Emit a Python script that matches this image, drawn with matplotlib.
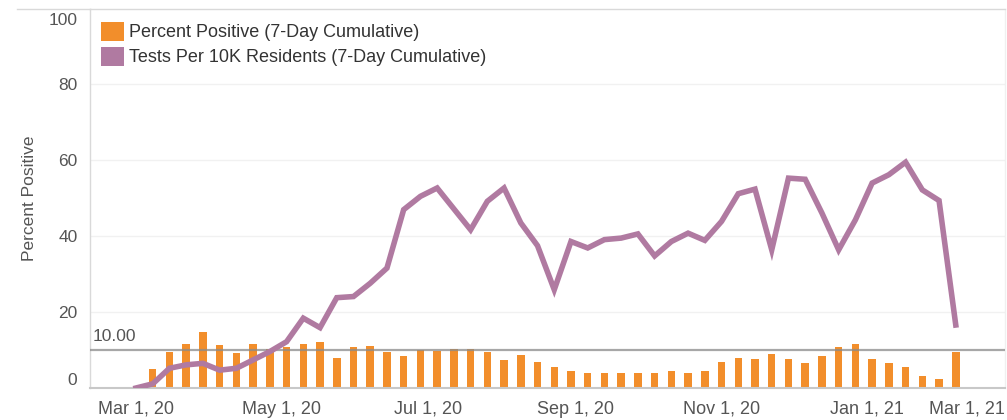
import numpy as np
import pandas as pd
import matplotlib
matplotlib.use("Agg")
import matplotlib.pyplot as plt
import matplotlib.dates as mdates
import matplotlib.transforms as mtransforms
from matplotlib.patches import Patch
from matplotlib.lines import Line2D

# ---------------- data ----------------
start_date = "2020-03-01"
n_weeks = 50
percent_positive = [0.0, 4.9, 9.6, 11.6, 14.7, 11.2, 9.3, 11.6, 10.2, 10.9,
                    11.6, 12.1, 8.0, 10.7, 11.1, 9.6, 8.4, 10.0, 9.7, 10.4,
                    10.4, 9.6, 7.3, 8.8, 6.9, 5.6, 4.5, 4.0, 4.0, 4.0,
                    4.0, 4.0, 4.5, 3.9, 4.5, 6.9, 7.8, 7.6, 8.9, 7.6,
                    6.5, 8.4, 10.8, 11.6, 7.6, 6.5, 5.6, 3.2, 2.4, 9.6]
tests_per_10k = [0.0, 1.1, 5.2, 6.1, 6.5, 4.7, 5.2, 7.4, 9.6, 12.2,
                 18.4, 15.9, 23.8, 24.1, 27.6, 31.6, 47.0, 50.5, 52.7, 47.2,
                 41.7, 49.2, 52.7, 43.5, 37.5, 25.9, 38.6, 36.9, 39.1, 39.5,
                 40.6, 34.8, 38.6, 40.8, 38.9, 43.9, 51.2, 52.4, 36.4, 55.3,
                 55.0, 46.1, 36.4, 44.3, 54.0, 56.2, 59.5, 52.2, 49.4, 16.6]
reference_value = 10.0
tick_dates = ["2020-03-01", "2020-05-01", "2020-07-01", "2020-09-01",
              "2020-11-01", "2021-01-01"]
tick_labels = ["Mar 1, 20", "May 1, 20", "Jul 1, 20", "Sep 1, 20",
               "Nov 1, 20", "Jan 1, 21"]
last_tick_label = "Mar 1, 21"
y_ticks = [0, 20, 40, 60, 80, 100]
series_names = ["Percent Positive (7-Day Cumulative)",
                "Tests Per 10K Residents (7-Day Cumulative)"]
y_title = "Percent Positive"

# ---------------- style ----------------
ORANGE = "#F28E2B"
PURPLE = "#B07AA1"
TXT = "#555555"
FONT = ["Liberation Sans", "DejaVu Sans"]
plt.rcParams["font.family"] = FONT

W, H = 1007, 420
fig = plt.figure(figsize=(W / 100, H / 100), dpi=100)
ax_left, ax_right, ax_top, ax_bot = 90, 1005, 8.5, 388
ax = fig.add_axes([ax_left / W, 1 - ax_bot / H, (ax_right - ax_left) / W,
                   (ax_bot - ax_top) / H])

dates = pd.date_range(start_date, periods=n_weeks, freq="7D")
x = mdates.date2num(dates)
x0 = mdates.date2num(pd.Timestamp(start_date))
px_per_day = 2.39
x0_px = 136
ax.set_xlim(x0 - (x0_px - ax_left) / px_per_day,
            x0 + (ax_right - x0_px) / px_per_day)
ax.set_ylim(0, 100)

# gridlines
for yv in y_ticks[1:-1]:
    ax.axhline(yv, color="#f1f1f1", lw=1.0, zorder=0)

ax.bar(x, percent_positive, width=7.5 / px_per_day, color=ORANGE, zorder=2)
ax.axhline(reference_value, color="#8a8a8a", lw=1.6, alpha=0.75, zorder=3)
ax.plot(x, tests_per_10k, color=PURPLE, lw=4.0, solid_joinstyle="miter",
        zorder=4)

ax.annotate(f"{reference_value:.2f}", xy=(0, reference_value),
            xycoords=("axes fraction", "data"), xytext=(2, 4),
            textcoords="offset points", ha="left", va="bottom",
            fontsize=12.5, color=TXT)

# axes styling
for s in ["top", "left", "right", "bottom"]:
    ax.spines[s].set_linewidth(1.0)
ax.spines["top"].set_color("#d9d9d9")
ax.spines["left"].set_color("#d9d9d9")
ax.spines["right"].set_color("#f0f0f0")
ax.spines["bottom"].set_color("#c8c8c8")
ax.spines["bottom"].set_linewidth(1.5)

ax.set_yticks(y_ticks)
ax.set_yticklabels([str(v) for v in y_ticks])
ax.tick_params(axis="y", length=0, pad=9, labelsize=12.5, labelcolor=TXT)
ylabs = ax.get_yticklabels()
ylabs[0].set_va("bottom")
ylabs[-1].set_va("top")
ylabs[-1].set_transform(ylabs[-1].get_transform() +
                        mtransforms.ScaledTranslation(0, -3 / 72,
                                                      fig.dpi_scale_trans))

ax.set_xticks(mdates.date2num(pd.to_datetime(tick_dates)))
ax.set_xticklabels(tick_labels)
ax.tick_params(axis="x", length=0, pad=9, labelsize=13, labelcolor=TXT)
ax.annotate(last_tick_label, xy=(1, 0), xycoords="axes fraction",
            xytext=(0, -9), textcoords="offset points", ha="right", va="top",
            fontsize=13, color=TXT)

ax.set_ylabel(y_title, fontsize=12.5, color=TXT)
ax.yaxis.set_label_coords(-0.058, 0.5)

# top pane border extending left
fig.add_artist(Line2D([17 / W, ax_left / W], [1 - ax_top / H, 1 - ax_top / H],
                      color="#d9d9d9", lw=1.0))

handles = [Patch(facecolor=ORANGE, edgecolor="none"),
           Patch(facecolor=PURPLE, edgecolor="none")]
ax.legend(handles, series_names, loc="upper left",
          bbox_to_anchor=(0.0125, 0.965), frameon=False, fontsize=13,
          handlelength=1.25, handleheight=1.25, handletextpad=0.3,
          labelspacing=0.3, borderpad=0, borderaxespad=0,
          labelcolor="#333333")

fig.savefig("out.png", dpi=100)
